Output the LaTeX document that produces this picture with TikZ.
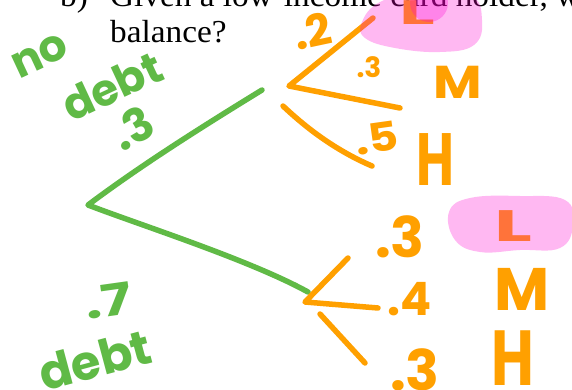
\documentclass[tikz,border=0pt]{standalone}
\usepackage{fontspec}
\setmainfont{Liberation Serif}
\newfontfamily\handfont{Poppins}
\definecolor{pengreen}{RGB}{96,186,70}
\definecolor{penorange}{RGB}{255,160,0}
\definecolor{hilite}{RGB}{255,0,210}
\begin{document}
\begin{tikzpicture}[x=1pt,y=-1pt,
  greenpen/.style={draw=pengreen,line width=5.5pt,line cap=round,line join=round},
  orangepen/.style={draw=penorange,line width=5.5pt,line cap=round,line join=round},
  hs/.style={font=\handfont\bfseries\fontsize{#1}{#1}\selectfont,inner sep=0pt},
  gtext/.style={hs=#1,text=pengreen},
  otext/.style={hs=#1,text=penorange},
  question/.style={font=\fontsize{32}{38}\selectfont,inner sep=0pt,anchor=base west,xscale=1.04},
  marker/.style={fill=hilite,fill opacity=0.28,draw=none}]
\useasboundingbox (0,0) rectangle (572,390);
\clip (0,0) rectangle (572,390);
\fill[white] (0,0) rectangle (572,390);
% question text
\node[question] (qb) at (60,7) {b)};
\node[question] (q1) at (110,7) {Given a low-income card holder, w};
\node[question] (q2) at (110,43) {balance?};
% green tree
\coordinate (root) at (88,205);
\coordinate (nodebt) at (262,90);
\coordinate (debt) at (308,292);
\draw[greenpen] (nodebt) .. controls (200,128) and (140,166) .. (root)
  .. controls (140,225) and (250,260) .. (debt);
\node[gtext=44,rotate=25] (tno) at (40,56) {no};
\node[gtext=44,rotate=25] (tdebt1) at (112,86) {debt};
\node[gtext=46,rotate=30] (tp3) at (132,128) {.3};
\node[gtext=44,rotate=8,xscale=1.3] (tp7) at (108,301) {.7};
\node[gtext=48,rotate=15] (tdebt2) at (95,360) {debt};
% orange subtree, upper
\coordinate (u0) at (289,86);
\coordinate (uL) at (373,18);
\coordinate (uM) at (400,108);
\coordinate (uH0) at (283,106);
\coordinate (uH) at (372,166);
\draw[orangepen] (uL) -- (u0) -- (uM);
\draw[orangepen] (uH0) .. controls (300,122) and (330,148) .. (uH);
\node[otext=44,rotate=12] (tu2) at (312,31) {.2};
\node[otext=28] (tu3) at (369,67) {.3};
\node[otext=40,rotate=8,xscale=1.15] (tu5) at (377,138) {.5};
\node[otext=34,xscale=2.2] (tuL) at (417,13) {L};
\node[otext=46,xscale=1.15] (tuM) at (458,82) {M};
\node[otext=74,xscale=0.7] (tuH) at (435,160) {H};
% orange subtree, lower
\coordinate (l0) at (305,302);
\coordinate (lL) at (348,258);
\coordinate (lM) at (378,308);
\coordinate (lH0) at (320,314);
\coordinate (lH) at (365,363);
\draw[orangepen] (lL) -- (l0) -- (lM);
\draw[orangepen] (lH0) -- (lH);
\node[otext=56] (tl3a) at (400,237) {.3};
\node[otext=46] (tl4) at (410,299) {.4};
\node[otext=56] (tl3b) at (415,370) {.3};
\node[otext=44,xscale=1.8] (tlL) at (513,226) {L};
\node[otext=60] (tlM) at (522,289) {M};
\node[otext=78,xscale=0.75] (tlH) at (513,358) {H};
% highlighter
\fill[marker] plot[smooth cycle,tension=0.7] coordinates
  {(362,22) (380,2) (420,-8) (470,-5) (482,20) (474,45) (440,52) (395,48) (365,38)};
\fill[marker] (429,3) circle (19);
\fill[marker] plot[smooth cycle,tension=0.7] coordinates
  {(449,212) (470,198) (520,196) (565,200) (573,225) (560,248) (520,250) (480,252) (455,240)};
\end{tikzpicture}
\end{document}
